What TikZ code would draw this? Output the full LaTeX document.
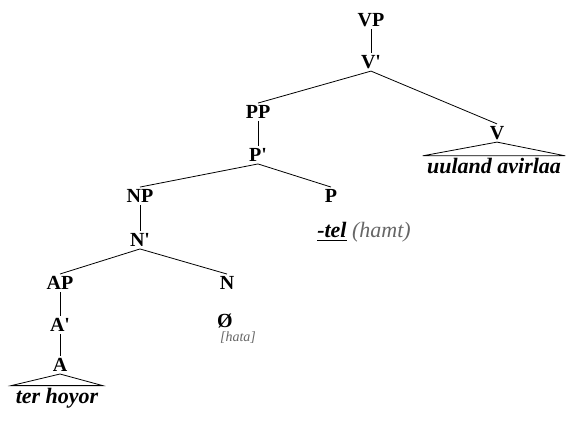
\documentclass[tikz,border=0pt]{standalone}
\usepackage{fontspec}
\setmainfont{Liberation Serif}
\usetikzlibrary{positioning}

\tikzset{
	cat/.style={font=\bfseries,inner sep=1pt},
	leaf/.style={font=\bfseries\itshape\fontsize{11}{13}\selectfont,inner sep=1pt},
	gloss/.style={font=\itshape\small,text=gray!80!black,inner sep=0pt}
}
\newcommand{\xbar}{\textquotesingle}

\begin{document}
\begin{tikzpicture}[x=0.5pt,y=-0.5pt]
	\useasboundingbox (0,0) rectangle (566,433);
	% categories
	\node[cat] (vp) at (371,20) {VP};
	\node[cat] (vb) at (371,62) {V\xbar};
	\node[cat] (pp) at (258,112) {PP};
	\node[cat] (v) at (497,133) {V};
	\node[cat] (pb) at (258,155) {P\xbar};
	\node[cat] (np) at (140,196) {NP};
	\node[cat] (p) at (331,196) {P};
	\node[cat] (nb) at (140,240) {N\xbar};
	\node[cat] (ap) at (60,283) {AP};
	\node[cat] (n) at (227,283) {N};
	\node[cat] (ab) at (60,325) {A\xbar};
	\node[cat] (a) at (60,365) {A};
	% words
	\node[leaf] (verb) at (494,166) {uuland avirlaa};
	\node[leaf] (tel) at (364,232) {\underline{-tel} {\mdseries\color{gray!80!black}(hamt)}};
	\node[cat] (zero) at (225,321) {Ø};
	\node[gloss,font=\itshape\scriptsize] (hata) at (238,338) {[hata]};
	\node[leaf] (adj) at (57,398) {ter hoyor};
	% branches
	\draw (vp)--(vb);
	\draw (vb.south)--(pp.north) (vb.south)--(v.north);
	\draw (pp)--(pb);
	\draw (pb.south)--(np.north) (pb.south)--(p.north);
	\draw (np)--(nb);
	\draw (nb.south)--(ap.north) (nb.south)--(n.north);
	\draw (ap)--(ab);
	\draw (ab)--(a);
	% triangles
	\draw (v.south)--([xshift=1pt]verb.north east)--([xshift=-1pt]verb.north west)--cycle;
	\draw (a.south)--([xshift=1pt]adj.north east)--([xshift=-1pt]adj.north west)--cycle;
\end{tikzpicture}
\end{document}
